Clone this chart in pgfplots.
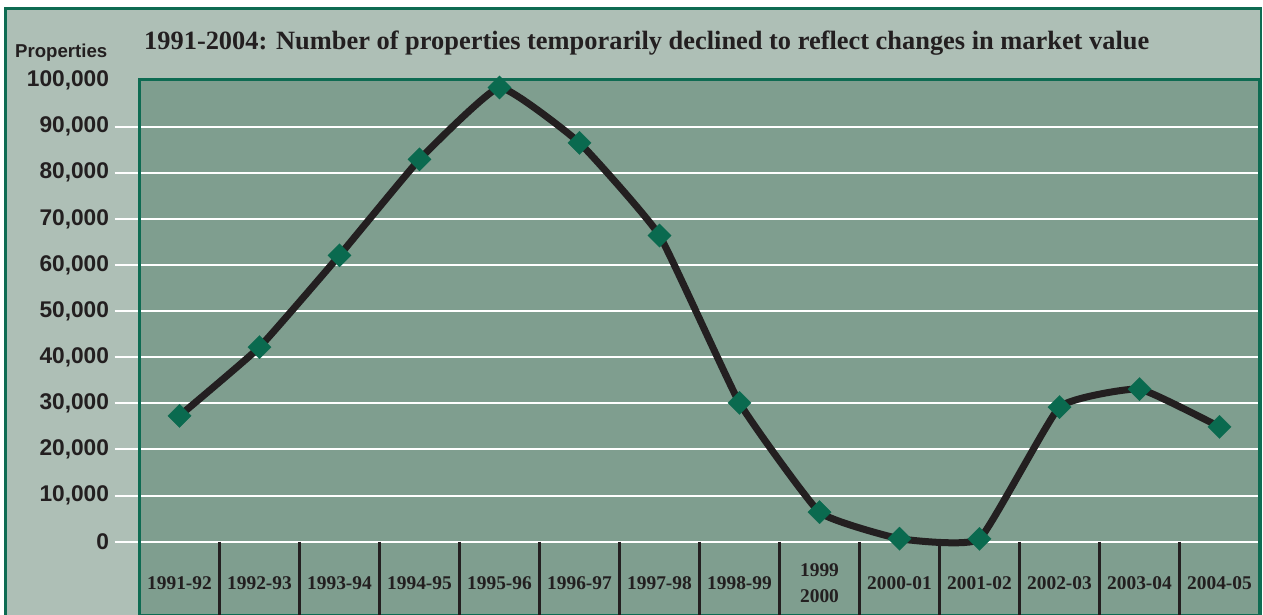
\documentclass[border=0pt]{standalone}
\usepackage{pgfplots}
\pgfplotsset{compat=1.18}
\usepackage{fontspec}
\setmainfont{Liberation Serif}
\newfontfamily\arial{Liberation Sans}
\definecolor{outerbg}{HTML}{AEBFB6}
\definecolor{plotbg}{HTML}{7F9E8F}
\definecolor{framegreen}{HTML}{0E6B52}
\definecolor{markgreen}{HTML}{0A6A4F}
\definecolor{linedark}{HTML}{231F20}
\begin{document}
\begin{tikzpicture}[x=1bp,y=1bp]
\useasboundingbox (0,0) rectangle (1263,615);
\fill[white] (0,0) rectangle (1263,615);
\filldraw[fill=outerbg, draw=framegreen, line width=2.5bp] (5.5,-10) rectangle (1261,606.5);
\node[anchor=base east, font=\arial\bfseries\fontsize{18.7}{22}\selectfont, text=linedark, inner sep=0pt] at (107.5,557.3) {Properties};
\node[anchor=base west, font=\bfseries\fontsize{26.5}{30}\selectfont, text=linedark, inner sep=0pt] at (144,565.7) {1991-2004: Number of properties temporarily declined to reflect changes in market value};
\begin{axis}[at={(139.5bp,0bp)}, anchor=south west, scale only axis,
  width=1120bp, height=535.7bp,
  xmin=0.5, xmax=14.5, ymin=-15897, ymax=100281,
  clip=false,
  axis background/.style={fill=plotbg},
  axis line style={framegreen, line width=2.5bp},
  scaled y ticks=false,
  ytick={0,10000,...,90000},
  extra y ticks={100000},
  extra y tick style={ymajorgrids=false, y tick style={draw=none}},
  ymajorgrids, grid style={white, line width=2bp},
  tick align=outside, ytick pos=left, major tick length=25bp,
  y tick style={white, line width=2bp},
  yticklabel style={font=\arial\bfseries\fontsize{22.8}{26}\selectfont, text=linedark, xshift=-2bp, /pgf/number format/.cd, fixed, precision=0, 1000 sep={,}, assume math mode=true},
  xtick={1,...,14},
  xticklabels={1991-92,1992-93,1993-94,1994-95,1995-96,1996-97,1997-98,1998-99,{1999\\2000},2000-01,2001-02,2002-03,2003-04,2004-05},
  x tick style={draw=none},
  xticklabel style={font=\bfseries\fontsize{19.5}{25.7}\selectfont, text=linedark, align=center, anchor=center, yshift=57bp},
]
\pgfplotsinvokeforeach{1.5,2.5,...,13.5}{
  \draw[linedark, line width=2.2bp] (axis cs:#1,0) -- (axis cs:#1,-15897);
}
\addplot[linedark, line width=7bp, smooth, tension=0.22, mark=square*, mark size=8.3bp,
  mark options={solid, fill=markgreen, draw=markgreen, line width=0.1bp, rotate=45}] coordinates {
  (1,27300) (2,42200) (3,62100) (4,82900) (5,98500) (6,86500) (7,66400)
  (8,30100) (9,6400) (10,650) (11,600) (12,29200) (13,33100) (14,24900)
};
\end{axis}
\end{tikzpicture}
\end{document}
